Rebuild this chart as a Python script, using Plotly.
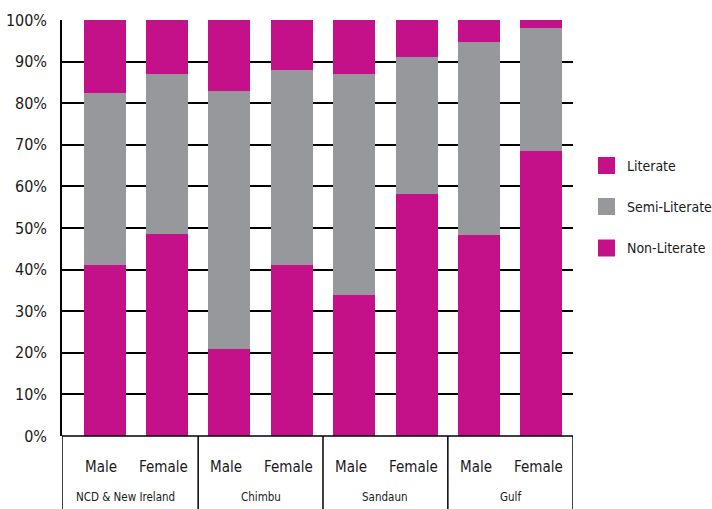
import plotly.graph_objects as go

# Literacy shares (%) by province and sex
groups = ["NCD & New Ireland", "Chimbu", "Sandaun", "Gulf"]
sexes = ["Male", "Female"]
non_literate = [41.0, 48.5, 21.0, 41.2, 34.0, 58.1, 48.2, 68.4]
semi_literate = [41.5, 38.6, 62.0, 46.8, 53.1, 33.1, 46.6, 29.7]
literate = [17.5, 12.9, 17.0, 12.0, 12.9, 8.8, 5.2, 1.9]
y_ticks = [0, 10, 20, 30, 40, 50, 60, 70, 80, 90, 100]

MAGENTA = "#C4118A"
GREY = "#97989C"
TEXT = "#1a1a1a"
FONT = "DejaVu Sans Condensed, DejaVu Sans, sans-serif"

# plot area geometry in pixels
W, H = 712, 509
L, R, T, B = 62, 139, 20, 73
PW, PH = W - L - R, H - T - B

XMIN, XMAX = -0.681, 7.505
xpos = list(range(len(non_literate)))
bar_w = 0.673

series = [("Non-Literate", non_literate, MAGENTA),
          ("Semi-Literate", semi_literate, GREY),
          ("Literate", literate, MAGENTA)]

fig = go.Figure()
for name, vals, col in series:
    fig.add_trace(go.Bar(x=xpos, y=vals, name=name, width=bar_w,
                         marker=dict(color=col, line=dict(width=0)),
                         showlegend=False))

shapes = []
annotations = []
line = dict(color="black", width=1.5)

# category table below the axis
for xv in [XMIN, 1.5, 3.5, 5.5, XMAX]:
    shapes.append(dict(type="line", xref="x", yref="paper", x0=xv, x1=xv,
                       y0=0, y1=-(B + 2) / PH, line=line))
shapes.append(dict(type="line", xref="x", yref="paper", x0=XMIN, x1=XMAX,
                   y0=0, y1=0, line=line))

for i in xpos:
    annotations.append(dict(x=i - 0.05, y=-31 / PH, xref="x", yref="paper",
                            text=sexes[i % 2], showarrow=False,
                            font=dict(family=FONT, size=15, color=TEXT),
                            xanchor="center", yanchor="middle"))
for g, name in enumerate(groups):
    cx = 2 * g + 0.5 if g > 0 else 0.33
    annotations.append(dict(x=cx, y=-61 / PH, xref="x", yref="paper",
                            text=name, showarrow=False,
                            font=dict(family=FONT, size=11.5, color=TEXT),
                            xanchor="center", yanchor="middle"))

# legend: Literate, Semi-Literate, Non-Literate from top to bottom
legend_items = [("Literate", MAGENTA, 165.5),
                ("Semi-Literate", GREY, 206.5),
                ("Non-Literate", MAGENTA, 248)]
for text, col, cy in legend_items:
    x0, x1 = (598 - L) / PW, (615 - L) / PW
    y0, y1 = (T + PH - (cy + 8.5)) / PH, (T + PH - (cy - 8.5)) / PH
    shapes.append(dict(type="rect", xref="paper", yref="paper",
                       x0=x0, x1=x1, y0=y0, y1=y1,
                       fillcolor=col, line=dict(width=0)))
    annotations.append(dict(x=(625 - L) / PW, y=(T + PH - cy) / PH,
                            xref="paper", yref="paper", text=text,
                            showarrow=False, xanchor="left", yanchor="middle",
                            font=dict(family=FONT, size=14, color=TEXT)))

fig.update_layout(
    width=W, height=H,
    margin=dict(l=L, r=R, t=T, b=B, autoexpand=False),
    barmode="stack",
    bargap=0,
    showlegend=False,
    plot_bgcolor="white",
    paper_bgcolor="white",
    font=dict(family=FONT, size=15, color=TEXT),
    xaxis=dict(range=[XMIN, XMAX], showticklabels=False, showgrid=False,
               zeroline=False, showline=False, ticks="", automargin=False),
    yaxis=dict(range=[0, 100], tickvals=y_ticks,
               ticktext=[f"{v}%" for v in y_ticks],
               showgrid=True, gridcolor="black", gridwidth=1.5,
               zeroline=False, showline=True, linecolor="black", linewidth=1.5,
               ticks="", ticklabelstandoff=10, automargin=False,
               tickfont=dict(family=FONT, size=16, color=TEXT)),
    shapes=shapes,
    annotations=annotations,
)

fig.write_html("out.html")
